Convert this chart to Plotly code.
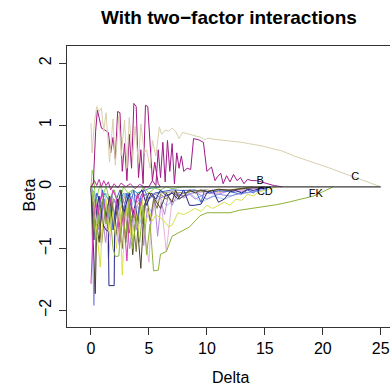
import plotly.graph_objects as go

# Coefficient paths along the Delta grid (one list pair per term)
tan_x = [0.0, 0.1, 0.3, 0.5, 0.7, 0.9, 1.1, 1.3, 1.6, 1.9, 2.1, 2.4, 2.6, 2.9, 3.1, 3.3, 3.6, 3.8, 4.1, 4.3,
         4.6, 4.8, 5.1, 5.3, 5.6, 5.9, 6.1, 6.4, 6.7, 7.0, 7.3, 7.6, 7.9, 8.3, 8.7, 9.1, 9.5, 9.8, 10.1, 10.6,
         11.2, 11.8, 12.4, 13.0, 13.6, 14.2, 14.8, 15.6, 16.5, 17.5, 18.5, 19.5, 20.5, 21.5, 22.5, 23.4, 24.2, 25.0]
tan_y = [1.03, 0.55, 1.05, 1.30, 1.22, 1.28, 0.90, 1.20, 0.40, 1.10, 0.35, 1.15, 0.50, 1.08, 0.30, 1.12, 0.45,
         0.98, 0.38, 1.02, 0.55, 0.60, 0.30, 0.75, 0.50, 0.97, 0.85, 0.92, 0.90, 0.95, 0.90, 0.78, 0.88, 0.86,
         0.84, 0.82, 0.80, 0.76, 0.79, 0.77, 0.76, 0.74, 0.73, 0.72, 0.70, 0.68, 0.66, 0.62, 0.58, 0.50, 0.44,
         0.38, 0.31, 0.24, 0.17, 0.10, 0.05, 0.0]

mag1_x = [0.0, 0.2, 0.4, 0.55, 0.7, 0.9, 1.2, 1.5, 1.7, 1.9, 2.1, 2.3, 2.5, 2.7, 2.9, 3.1, 3.3, 3.5, 3.7, 3.9,
          4.1, 4.3, 4.5, 4.7, 4.9, 5.1, 5.3, 5.5, 5.8, 6.0]
mag1_y = [0.0, 0.05, 0.90, 1.24, 1.12, 0.95, 0.92, 0.88, 0.55, 0.80, 0.45, 1.22, 1.20, 0.25, 0.70, 0.10, 0.85,
          0.30, 1.35, 1.30, 0.15, 0.60, 0.05, 1.32, 1.30, 0.70, 0.10, 0.40, 0.05, 0.0]

mag2_x = [5.0, 5.3, 5.6, 5.8, 6.0, 6.2, 6.4, 6.6, 6.8, 7.0, 7.2, 7.4, 7.6, 7.8, 8.0, 8.3, 8.6, 8.85, 9.3, 9.7,
          10.0, 10.4, 10.7, 10.9, 11.2, 11.4, 11.7, 12.0, 12.3, 12.6, 12.9, 13.2, 13.5, 13.9, 14.3, 14.8, 15.3,
          15.8, 16.5]
mag2_y = [0.0, 0.10, 0.02, 0.60, 0.15, 0.72, 0.08, 0.75, 0.25, 0.70, 0.05, 0.55, 0.30, 0.50, 0.25, 0.30, 0.28,
          0.78, 0.76, 0.72, 0.25, 0.32, 0.10, 0.16, 0.22, 0.05, 0.18, 0.08, 0.20, 0.10, 0.15, 0.05, 0.12, 0.10,
          0.10, 0.07, 0.04, 0.02, 0.0]

mag3_x = [0.0, 0.3, 0.5, 0.7, 0.9, 1.1, 1.3, 1.5, 1.7, 2.0, 2.3, 2.6, 3.0, 3.4, 3.8, 4.2, 4.6, 5.0]
mag3_y = [0.0, 0.10, 0.02, 0.12, 0.0, 0.10, 0.02, 0.08, -0.05, 0.05, -0.02, 0.06, 0.0, 0.05, -0.03, 0.04, 0.0, 0.0]

lav_x = [0.0, 0.15, 0.25, 0.4, 0.6, 0.9, 1.2, 1.5, 1.8, 2.2, 2.6, 3.0, 3.5, 4.0, 4.5, 5.0, 5.5, 6.0, 7.0, 8.0,
         9.0, 10.0, 11.0, 12.0, 13.0, 14.0, 15.0, 15.5]
lav_y = [0.0, -1.2, -1.92, -0.9, -0.3, -0.45, -0.2, -0.5, -0.15, -0.3, -0.1, -0.35, -0.15, -0.25, -0.1, -0.2,
         -0.12, -0.18, -0.1, -0.15, -0.08, -0.2, -0.12, -0.15, -0.1, -0.08, -0.04, 0.0]

hot_x = [0.0, 0.2, 0.4, 0.6, 0.8, 1.0, 1.3, 1.6, 1.9, 2.2, 2.5, 2.8, 3.1, 3.4, 3.7, 4.0, 4.3, 4.6, 5.0]
hot_y = [-1.57, -0.6, -0.25, -0.45, -0.2, -0.1, -0.55, -0.3, -0.05, -0.2, -0.9, -0.4, -1.2, -0.2, -0.5, -0.1,
         -0.3, 0.0, 0.0]

navy_x = [0.0, 0.15, 0.25, 0.45, 0.7, 1.0, 1.3, 1.5, 1.55, 2.0, 2.05, 2.3, 2.6, 3.0, 3.3, 3.6, 4.0, 4.4, 4.8,
          5.2, 5.6, 6.0, 6.5, 7.0, 7.5, 8.0, 8.5, 8.9, 9.5, 10.0, 10.5, 11.0, 11.5, 12.0, 12.5, 13.0, 13.5,
          14.0, 14.5, 15.0, 15.5]
navy_y = [0.0, -0.5, -0.86, -0.4, -0.15, -0.6, -0.7, -0.72, -1.6, -1.6, -0.5, -0.2, -0.6, -0.3, -0.1, -0.45,
          -0.15, -0.05, -0.3, -0.1, -0.2, -0.05, -0.15, -0.1, -0.2, -0.05, -0.3, -0.3, -0.28, -0.1, -0.05, -0.25,
          -0.2, -0.08, -0.06, -0.1, -0.04, -0.06, -0.03, -0.02, 0.0]

blue_x = [0.0, 0.3, 0.5, 0.8, 1.0, 1.3, 1.6, 1.9, 2.2, 2.5, 2.8, 3.1, 3.4, 3.7, 4.0, 4.3, 4.6, 5.0, 5.5, 6.0,
          7.0, 8.0, 9.0, 9.5, 9.8, 10.2, 11.0, 12.0, 13.0, 13.5, 14.0, 14.5, 15.0]
blue_y = [0.0, -0.35, -0.1, -0.25, -0.05, -0.5, -0.15, -0.7, -0.2, -0.05, -0.4, -0.1, -0.3, -0.05, -0.55,
          -0.15, -0.05, -0.2, -0.1, -0.08, -0.05, -0.06, -0.05, -0.25, -0.05, -0.1, -0.06, -0.08, -0.12, -0.05,
          -0.1, -0.04, 0.0]

lblue_x = [0.0, 0.4, 0.7, 1.0, 1.4, 1.8, 2.1, 2.5, 2.9, 3.3, 3.7, 4.2, 4.7, 5.2, 5.8, 6.5, 7.5, 8.5, 9.5, 10.5,
           11.5, 12.5, 13.5, 14.5, 15.2]
lblue_y = [0.0, -0.2, -0.6, -0.3, -0.1, -0.35, -0.8, -0.3, -0.1, -0.45, -0.2, -0.6, -0.25, -0.4, -0.15, -0.3,
           -0.2, -0.1, -0.25, -0.15, -0.2, -0.12, -0.1, -0.05, 0.0]

yel_x = [0.0, 0.3, 0.6, 0.8, 1.0, 1.3, 1.6, 1.9, 2.2, 2.5, 2.7, 2.9, 3.2, 3.5, 3.8, 4.1, 4.4, 4.7, 5.0, 5.3,
         5.6, 6.0, 6.3, 6.7, 7.0, 7.5, 8.0, 8.5, 9.0, 9.5, 10.0, 10.5, 11.0, 11.5, 12.0, 12.5, 13.0, 13.5, 14.0,
         14.5, 15.0, 15.5, 16.0]
yel_y = [0.0, -0.3, -0.9, -1.3, -0.6, -0.2, -0.8, -0.4, -1.0, -0.3, -1.43, -0.6, -0.25, -0.9, -0.35, -0.7,
         -0.2, -0.6, -0.4, -0.55, -0.45, -0.5, -0.55, -0.65, -0.62, -0.42, -0.45, -0.4, -0.35, -0.4, -0.3,
         -0.35, -0.3, -0.25, -0.3, -0.2, -0.22, -0.12, -0.15, -0.08, -0.06, -0.03, 0.0]

olive_x = [0.0, 0.2, 0.4, 0.7, 1.0, 1.3, 1.6, 1.9, 2.1, 2.4, 2.7, 3.0, 3.3, 3.6, 3.9, 4.2, 4.5, 4.8, 5.1, 5.4,
           5.8, 6.0, 6.5, 7.0, 7.5, 7.9, 8.5, 9.0, 9.4, 10.0, 11.0, 12.0, 12.8, 13.5, 14.3, 15.0, 16.0, 17.0,
           17.5, 18.5, 19.2, 20.0, 20.9]
olive_y = [0.0, -0.3, -0.9, -0.5, -0.2, -0.6, -0.3, -1.0, -1.13, -1.12, -0.4, -0.8, -0.2, -1.0, -0.5, -0.9,
           -0.3, -1.1, -0.6, -1.36, -1.35, -1.09, -1.05, -0.8, -0.75, -0.71, -0.65, -0.55, -0.47, -0.42, -0.42,
           -0.42, -0.38, -0.36, -0.34, -0.32, -0.29, -0.25, -0.23, -0.19, -0.15, -0.08, 0.0]

lgreen_x = [0.0, 0.1, 0.25, 0.4, 0.6, 0.8, 1.0, 1.3, 1.6, 2.0, 2.4, 2.8, 3.2, 3.6, 4.0, 4.5, 5.0, 5.5, 6.0,
            6.5, 7.0, 8.0, 9.0]
lgreen_y = [0.0, 0.27, 0.15, -0.3, -0.1, 0.05, -0.15, 0.0, -0.2, -0.05, -0.3, 0.0, -0.1, -0.05, -0.2, 0.0,
            -0.1, -0.02, -0.05, 0.0, -0.03, 0.0, 0.0]

brown_x = [0.0, 0.2, 0.37, 0.5, 0.7, 1.0, 1.3, 1.6, 2.0, 2.3, 2.6, 3.0, 3.3, 3.6, 3.9, 4.3, 4.6, 5.0, 5.5, 6.0,
           6.5, 7.0, 7.3, 7.6, 8.0, 8.5, 9.0, 9.5, 10.0, 11.0, 12.0, 13.0, 14.0, 15.0]
brown_y = [0.0, -0.8, -1.73, -0.6, -0.9, -0.2, -0.5, -0.15, -0.7, -0.3, -0.05, -0.9, -0.2, -1.1, -0.4, -1.32,
           -0.3, -0.1, -0.2, -0.35, -0.1, -0.25, -0.05, -0.2, -0.15, -0.05, -0.1, -0.05, -0.08, -0.04, -0.06,
           -0.03, -0.02, 0.0]

pink_x = [0.0, 0.3, 0.6, 0.9, 1.2, 1.5, 1.8, 2.2, 2.6, 3.0, 3.5, 4.0, 4.5, 5.0, 5.2, 5.5, 6.0, 6.5, 7.0, 7.5,
          8.0, 9.0, 10.0, 11.0, 12.0, 13.0, 14.0, 15.0]
pink_y = [0.0, -0.5, -0.2, -0.8, -0.4, -1.16, -0.6, -0.3, -0.5, -0.2, -0.7, -0.3, -0.6, -1.22, -0.5, -0.3,
          -0.15, -1.05, -0.2, -0.1, -0.15, -0.1, -0.08, -0.1, -0.05, -0.06, -0.03, 0.0]

khaki_x = [0.0, 0.5, 1.0, 1.5, 2.0, 2.5, 3.0, 3.5, 4.0, 4.5, 5.0, 5.5, 6.0, 7.0, 8.0, 9.0, 10.0, 11.0, 12.0,
           13.0, 14.0, 15.0, 15.5]
khaki_y = [0.0, -0.4, -0.1, -0.6, -0.2, -0.4, -0.1, -0.5, -0.3, -0.15, -0.1, -0.12, -0.1, -0.08, -0.1, -0.06,
           -0.05, -0.08, -0.05, -0.04, -0.03, -0.02, 0.0]

teal_x = [0.0, 0.4, 0.8, 1.2, 1.6, 2.0, 2.4, 2.8, 3.2, 3.6, 4.0, 5.0, 6.0]
teal_y = [0.0, -0.15, -0.35, -0.1, -0.25, -0.05, -0.3, -0.1, -0.2, -0.05, -0.1, -0.03, 0.0]

dolive_x = [0.0, 0.3, 0.6, 0.9, 1.2, 1.5, 1.8, 2.1, 2.4, 2.7, 3.0, 3.3, 3.6, 3.9, 4.2, 4.5, 4.8, 5.1, 5.4, 5.7,
            6.0, 6.5, 7.0, 7.5, 8.0, 9.0, 10.0, 11.0, 12.0, 13.0, 14.0]
dolive_y = [0.0, -0.6, -0.3, -0.95, -0.4, -0.7, -0.2, -0.85, -0.5, -1.0, -0.3, -0.75, -0.45, -1.05, -0.25,
            -0.6, -0.15, -0.55, -0.2, -0.35, -0.12, -0.2, -0.08, -0.15, -0.1, -0.06, -0.08, -0.04, -0.05, -0.02,
            0.0]

purple_x = [0.0, 0.35, 0.65, 0.95, 1.25, 1.55, 1.85, 2.15, 2.45, 2.75, 3.05, 3.35, 3.65, 3.95, 4.25, 4.55,
            4.85, 5.15, 5.45, 5.75, 6.05, 6.35, 6.65, 7.0, 7.5, 8.0, 8.5, 9.0, 10.0, 11.0, 12.0, 13.0, 14.0, 15.0]
purple_y = [0.0, -0.25, -0.7, -0.35, -0.9, -0.45, -0.25, -0.6, -0.95, -0.3, -0.55, -1.0, -0.4, -0.7, -0.2,
            -0.95, -0.35, -0.6, -0.15, -0.8, -0.25, -0.45, -0.15, -0.3, -0.1, -0.18, -0.12, -0.2, -0.1, -0.12,
            -0.06, -0.08, -0.03, 0.0]

paths = [
    (khaki_x, khaki_y, "#a89c70"),
    (teal_x, teal_y, "#3fa3a3"),
    (lblue_x, lblue_y, "#a2cbea"),
    (pink_x, pink_y, "#e8b2da"),
    (purple_x, purple_y, "#b58ad6"),
    (dolive_x, dolive_y, "#7a7436"),
    (lgreen_x, lgreen_y, "#90d24e"),
    (blue_x, blue_y, "#3c64d2"),
    (lav_x, lav_y, "#8a8ae8"),
    (navy_x, navy_y, "#26268a"),
    (brown_x, brown_y, "#4e4028"),
    (yel_x, yel_y, "#d7e246"),
    (hot_x, hot_y, "#da3cb8"),
    (olive_x, olive_y, "#8db236"),
    (mag3_x, mag3_y, "#c02fa0"),
    (mag2_x, mag2_y, "#9e1a8a"),
    (mag1_x, mag1_y, "#a3177f"),
    (tan_x, tan_y, "#d9cfae"),
]

# End-of-path term labels
label_text = ["B", "CD", "C", "FK"]
label_x = [14.6, 15.0, 22.8, 19.4]
label_y = [0.09, -0.09, 0.16, -0.12]

zero_x = [0.0, 25.0]
zero_y = [0.0, 0.0]

x_ticks = [0, 5, 10, 15, 20, 25]
y_ticks = [-2, -1, 0, 1, 2]

fig = go.Figure()
for xs, ys, col in paths:
    fig.add_trace(go.Scatter(x=xs, y=ys, mode="lines", line=dict(color=col, width=1.0),
                             hoverinfo="skip", showlegend=False))
fig.add_trace(go.Scatter(x=zero_x, y=zero_y, mode="lines", line=dict(color="#3a3a3a", width=1.3),
                         hoverinfo="skip", showlegend=False))
fig.add_trace(go.Scatter(x=label_x, y=label_y, mode="text", text=label_text,
                         textfont=dict(family="Liberation Sans, Arial, sans-serif", size=11, color="#000"),
                         hoverinfo="skip", showlegend=False))

axis_font = dict(family="Liberation Sans, Arial, sans-serif", size=16, color="#000")
fig.update_layout(
    width=390, height=390,
    margin=dict(l=67, r=0, t=46, b=63),
    paper_bgcolor="white", plot_bgcolor="white",
    xaxis=dict(range=[-2.07, 25.8], tickvals=x_ticks, ticks="outside", ticklen=7, tickcolor="#333",
               showline=True, linecolor="#333", linewidth=1.2, mirror=True, showgrid=False,
               zeroline=False, tickfont=axis_font),
    yaxis=dict(range=[-2.27, 2.28], tickvals=y_ticks, ticks="outside", ticklen=7, tickcolor="#333",
               showline=True, linecolor="#333", linewidth=1.2, showgrid=False, zeroline=False,
               tickfont=axis_font, tickangle=-90, ticklabelstandoff=2),
    annotations=[
        dict(text="<b>With two\u2212factor interactions</b>", xref="paper", yref="paper",
             x=(228.5 - 67) / 323, y=(390 - 63 - 17) / 281, yanchor="middle", showarrow=False,
             font=dict(family="Liberation Sans, Arial, sans-serif", size=19, color="#000")),
        dict(text="Delta", xref="paper", yref="paper", x=(230 - 67) / 323, y=-(377 - 327) / 281,
             yanchor="middle", showarrow=False, font=axis_font),
        dict(text="Beta", xref="paper", yref="paper", x=-(67 - 18) / 323, y=(327 - 195) / 281,
             yanchor="middle", showarrow=False, font=axis_font, textangle=-90),
    ],
)

fig.write_html("out.html")
